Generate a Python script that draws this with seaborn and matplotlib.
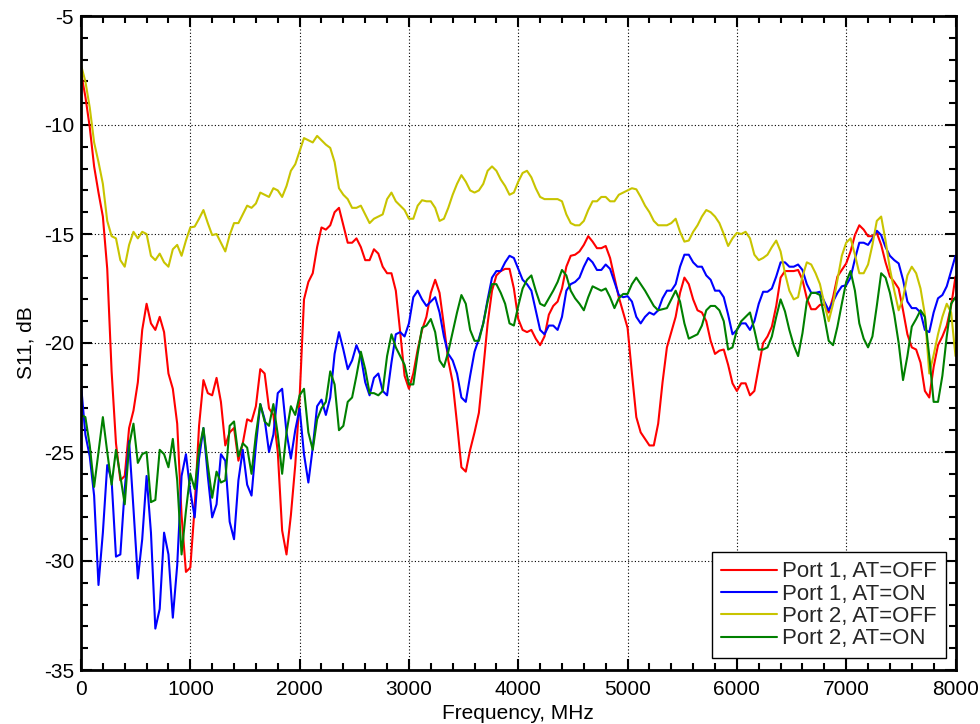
import numpy as np
import pandas as pd
import matplotlib
matplotlib.use('Agg')
import matplotlib.pyplot as plt
from matplotlib.ticker import MultipleLocator
import seaborn as sns

# S11 sweep, one point every 40 MHz from 0 to 8000 MHz
freq = np.arange(0, 8001, 40)

p1_off = [
    -7.6, -8.7, -10.1, -11.9, -13.1, -14.2, -16.6, -21.3, -24.6, -26.3, -26.1, -23.9, -23.1,
    -21.8, -19.4, -18.2, -19.1, -19.4, -18.8, -19.5, -21.4, -22.1, -23.7, -27.9, -30.5, -30.3,
    -27.5, -23.8, -21.7, -22.3, -22.4, -21.6, -22.7, -24.7, -24.1, -23.9, -25.4, -24.6, -23.5,
    -23.6, -22.9, -21.2, -21.4, -23.0, -23.3, -25.0, -28.6, -29.7, -27.9, -25.6, -22.5,
    -18.0, -17.2, -16.8, -15.6, -14.7, -14.8, -14.6, -14.0, -13.8, -14.6, -15.4, -15.4, -15.2,
    -15.6, -16.2, -16.2, -15.7, -15.9, -16.5, -16.8, -16.8, -17.6, -19.5, -21.5, -22.1,
    -21.4, -20.3, -19.4, -18.8, -17.7, -17.1, -17.7, -19.2, -20.8, -21.8, -23.7, -25.7, -25.9,
    -24.9, -24.1, -23.2, -21.2, -19.1, -17.6, -16.9, -16.7, -16.6, -16.6, -17.5, -18.9,
    -19.4, -19.5, -19.4, -19.8, -20.1, -19.7, -18.7, -18.3, -18.1, -17.5, -16.5, -16.0, -15.95,
    -15.8, -15.5, -15.1, -15.35, -15.65, -15.65, -15.55, -16.1, -17.0, -17.9, -18.6, -19.3,
    -21.4, -23.4, -24.1, -24.4, -24.7, -24.7, -23.7, -21.8, -20.2, -19.5, -18.8, -17.7, -17.0,
    -17.3, -18.0, -18.5, -18.6, -19.0, -19.9, -20.5, -20.35, -20.3, -21.0, -21.85, -22.2,
    -21.85, -21.85, -22.4, -22.2, -21.1, -20.0, -19.7, -19.25, -18.3, -17.0, -16.7, -16.7, -16.7,
    -16.65, -17.1, -17.95, -18.45, -18.45, -18.25, -18.25, -18.6, -17.9, -16.95, -16.65, -16.35,
    -15.8, -15.05, -14.6, -14.8, -15.1, -15.1, -14.95, -15.5, -16.3, -16.95, -17.2, -17.5, -18.5,
    -19.6, -20.2, -20.3, -20.9, -22.2, -22.5, -21.1, -20.1, -19.7, -19.2, -18.3, -16.95,
]

p1_on = [
    -21.9, -24.2, -25.2, -27.0, -31.1, -28.7, -25.6, -26.3, -29.8, -29.7, -26.7, -24.5, -27.6,
    -30.8, -29.0, -26.1, -28.7, -33.1, -32.2, -28.7, -29.7, -32.6, -30.2, -26.1, -25.1, -26.8,
    -28.0, -25.3, -23.9, -26.1, -28.0, -27.4, -25.1, -25.4, -28.2, -29.0, -26.3, -24.9, -26.5,
    -27.0, -24.7, -22.8, -23.5, -25.0, -24.2, -22.3, -22.1, -24.1, -25.3, -24.0, -23.0,
    -25.1, -26.4, -24.8, -22.9, -22.6, -23.3, -22.5, -20.5, -19.5, -20.3, -21.2, -20.8, -20.1,
    -20.6, -21.8, -22.4, -21.6, -21.4, -22.2, -22.4, -20.9, -19.6, -19.5, -19.7, -19.1,
    -17.9, -17.6, -18.0, -18.3, -18.1, -17.9, -18.6, -19.7, -20.5, -20.8, -21.4, -22.5, -22.7,
    -21.5, -20.4, -19.8, -19.1, -18.0, -17.0, -16.7, -16.7, -16.3, -16.0, -16.1, -16.6,
    -17.1, -17.3, -17.6, -18.5, -19.4, -19.6, -19.2, -19.2, -19.4, -18.8, -17.6, -17.3, -17.2,
    -17.0, -16.5, -16.1, -16.3, -16.65, -16.65, -16.4, -16.6, -17.2, -17.8, -17.9, -17.85,
    -18.1, -18.8, -19.1, -18.8, -18.6, -18.7, -18.5, -17.95, -17.6, -17.6, -17.3, -16.5, -15.95,
    -15.95, -16.3, -16.5, -16.5, -16.9, -17.1, -17.6, -17.6, -17.9, -18.7, -19.6, -19.4,
    -19.1, -19.1, -19.4, -19.0, -18.2, -17.65, -17.65, -17.5, -16.95, -16.3, -16.3, -16.5, -16.5,
    -16.4, -16.65, -17.3, -17.7, -17.7, -17.65, -18.1, -18.5, -18.1, -17.7, -17.4, -17.35,
    -17.0, -16.15, -15.4, -15.4, -15.5, -15.2, -14.85, -15.05, -15.6, -16.0, -16.2, -16.35, -17.1,
    -18.1, -18.4, -18.4, -18.6, -19.4, -19.5, -18.6, -17.95, -17.8, -17.4, -16.7, -16.0,
]

p2_off = [
    -7.25, -8.0, -9.2, -10.8, -11.7, -12.7, -14.4, -15.1, -15.2, -16.2, -16.5, -15.5, -14.9,
    -15.2, -14.9, -15.0, -16.0, -16.2, -15.9, -16.3, -16.5, -15.7, -15.5, -16.0, -15.3, -14.7,
    -14.66, -14.3, -13.9, -14.5, -15.05, -15.0, -15.4, -15.8, -15.05, -14.5, -14.5, -14.1, -13.7,
    -13.8, -13.6, -13.1, -13.2, -13.3, -12.9, -13.0, -13.3, -12.8, -12.1, -11.8, -11.2,
    -10.6, -10.7, -10.8, -10.5, -10.7, -10.9, -11.05, -11.7, -12.9, -13.2, -13.4, -13.8, -13.8,
    -13.7, -14.1, -14.5, -14.3, -14.2, -14.1, -13.4, -13.1, -13.5, -13.7, -13.9, -14.3,
    -14.3, -13.7, -13.45, -13.5, -13.5, -13.8, -14.4, -14.3, -13.8, -13.2, -12.7, -12.3, -12.6,
    -13.0, -13.1, -13.0, -12.7, -12.1, -11.9, -12.1, -12.5, -12.8, -13.2, -13.1, -12.6,
    -12.2, -12.1, -12.4, -12.9, -13.3, -13.4, -13.4, -13.4, -13.4, -13.5, -14.1, -14.5, -14.6,
    -14.6, -14.4, -13.9, -13.5, -13.5, -13.3, -13.3, -13.5, -13.5, -13.2, -13.1, -13.0,
    -12.9, -12.95, -13.3, -13.7, -14.0, -14.4, -14.6, -14.6, -14.6, -14.5, -14.3, -14.9, -15.35,
    -15.3, -14.9, -14.6, -14.2, -13.9, -14.0, -14.2, -14.5, -15.0, -15.55, -15.2, -14.95,
    -15.0, -14.9, -15.2, -15.95, -16.2, -16.1, -15.95, -15.6, -15.3, -15.8, -16.8, -17.6, -18.0,
    -17.9, -16.95, -16.3, -16.4, -16.8, -17.3, -18.2, -19.0, -18.2, -17.1, -16.0, -15.4,
    -15.2, -15.95, -16.8, -16.8, -16.4, -15.5, -14.4, -14.2, -15.3, -16.6, -17.6, -18.5, -17.95,
    -16.9, -16.5, -16.8, -17.5, -18.7, -21.4, -20.55, -19.6, -18.8, -18.2, -18.6, -20.6,
]

p2_on = [
    -23.3, -23.4, -24.7, -26.6, -25.0, -23.4, -25.0, -26.5, -24.9, -26.1, -27.4, -24.7, -23.7,
    -25.5, -25.1, -25.0, -27.3, -27.2, -24.9, -25.1, -25.7, -24.4, -26.3, -29.7, -27.7, -26.0,
    -26.7, -24.9, -23.9, -25.6, -27.1, -25.9, -26.4, -26.3, -23.8, -23.6, -25.2, -24.6, -24.8,
    -26.0, -24.2, -22.8, -23.6, -23.8, -22.8, -24.2, -26.0, -24.1, -22.9, -23.3, -22.4,
    -22.1, -24.1, -24.9, -23.5, -23.0, -22.7, -21.3, -21.9, -24.0, -23.8, -22.7, -22.5, -21.5,
    -20.4, -21.2, -22.3, -22.3, -22.4, -22.2, -20.6, -19.6, -20.2, -20.6, -21.0, -21.9,
    -21.9, -20.5, -19.3, -19.2, -18.9, -19.5, -20.8, -21.1, -20.4, -19.5, -18.6, -17.8, -18.2,
    -19.4, -19.9, -19.9, -19.1, -18.1, -17.3, -17.3, -17.7, -18.2, -19.1, -19.2, -18.3,
    -17.5, -17.1, -16.9, -17.6, -18.2, -18.3, -17.95, -17.6, -17.2, -16.65, -16.9, -17.6, -17.95,
    -18.2, -18.5, -17.9, -17.4, -17.5, -17.6, -17.5, -17.9, -18.4, -17.95, -17.75, -17.75,
    -17.3, -17.0, -17.3, -17.6, -17.95, -18.3, -18.5, -18.45, -18.4, -18.0, -17.6, -18.1, -19.1,
    -19.8, -19.7, -19.6, -19.2, -18.5, -18.3, -18.3, -18.5, -19.0, -20.3, -20.2, -19.4,
    -19.0, -18.8, -18.6, -19.4, -20.3, -20.3, -20.2, -19.7, -18.8, -18.0, -18.55, -19.4, -20.1,
    -20.6, -19.55, -18.1, -17.7, -17.7, -17.8, -18.8, -19.9, -20.1, -19.25, -18.2, -17.2,
    -16.7, -17.6, -19.1, -19.8, -20.2, -19.7, -18.3, -16.8, -17.0, -17.7, -18.7, -20.0, -21.7,
    -20.6, -19.25, -18.9, -18.5, -18.8, -20.6, -22.7, -22.7, -21.5, -19.7, -18.2, -17.9,
]

labels = ['Port 1, AT=OFF', 'Port 1, AT=ON', 'Port 2, AT=OFF', 'Port 2, AT=ON']
colors = ['#ff0000', '#0000ff', '#c8c400', '#008000']

df = pd.DataFrame({
    'freq': np.tile(freq, 4),
    's11': np.concatenate([p1_off, p1_on, p2_off, p2_on]),
    'trace': np.repeat(labels, len(freq)),
})

sns.set_theme(style='white')
plt.rcParams['font.family'] = ['Liberation Sans', 'DejaVu Sans']
plt.rcParams['axes.unicode_minus'] = False

fig = plt.figure(figsize=(9.8, 7.24), dpi=100)
ax = fig.add_axes([81 / 980, 1 - 670 / 724, 874.5 / 980, 654 / 724])

sns.lineplot(data=df, x='freq', y='s11', hue='trace', hue_order=labels,
             palette=colors, estimator=None, linewidth=1.5, ax=ax)

ax.set_xlim(0, 8000)
ax.set_ylim(-35, -5)
ax.xaxis.set_major_locator(MultipleLocator(1000))
ax.xaxis.set_minor_locator(MultipleLocator(200))
ax.yaxis.set_major_locator(MultipleLocator(5))
ax.yaxis.set_minor_locator(MultipleLocator(1))
ax.tick_params(which='both', direction='in', top=True, right=True,
               bottom=True, left=True, color='black', width=1.5)
ax.tick_params(which='major', length=8, labelsize=15, labelcolor='black')
ax.tick_params(which='minor', length=5)
ax.tick_params(axis='x', which='major', pad=7)
ax.tick_params(axis='y', which='major', pad=5)

ax.grid(True, which='major', color='black', linestyle=(0, (1, 2)), linewidth=0.8)
ax.set_axisbelow(True)
for s in ax.spines.values():
    s.set_color('black')
    s.set_linewidth(2)

ax.set_xlabel('Frequency, MHz', fontsize=15, color='black', labelpad=4)
ax.set_ylabel('S11, dB', fontsize=15, color='black', labelpad=6)

h, l = ax.get_legend_handles_labels()
leg = ax.legend(h, l, loc='lower right', bbox_to_anchor=(0.989, 0.018),
                borderaxespad=0, fontsize=16, frameon=True, fancybox=False,
                framealpha=1, edgecolor='black', handlelength=2.5,
                handletextpad=0.25, labelspacing=0.06, borderpad=0.4)
leg.get_frame().set_linewidth(1)

fig.savefig('out.png', dpi=100)
